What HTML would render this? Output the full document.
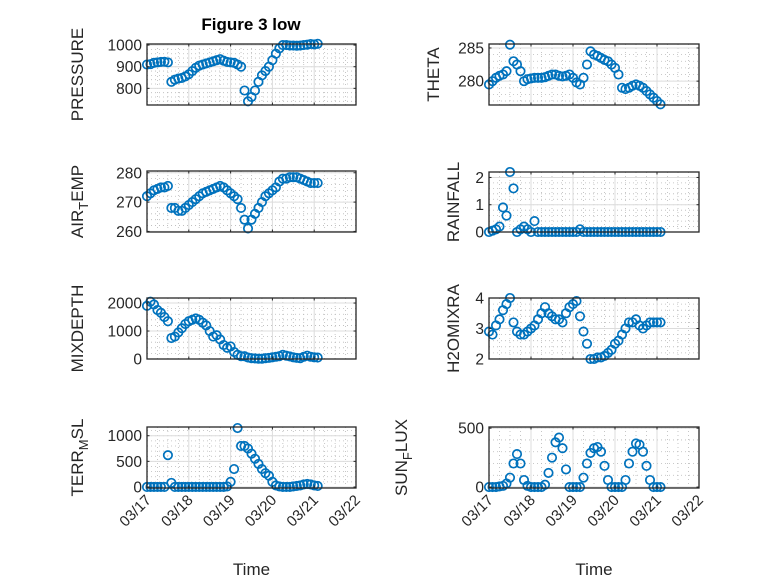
<!DOCTYPE html>
<html><head><meta charset="utf-8"><style>
body{margin:0;background:#fff;}
svg{display:block;font-family:"Liberation Sans","DejaVu Sans",sans-serif;}
</style></head><body>
<svg id="fig" width="778" height="583" viewBox="0 0 778 583" xmlns="http://www.w3.org/2000/svg">
<rect width="778" height="583" fill="#fff"/>
<text x="251" y="30" text-anchor="middle" font-size="17" font-weight="bold" fill="#000">Figure 3 low</text>
<g id="plots"></g>
</svg>
<script>
const hours = [0,2,4,6,8,10,12,14,16,18,20,22,24,26,28,30,32,34,36,38,40,42,44,46,48,50,52,54,56,58,60,62,64,66,68,70,72,74,76,78,80,82,84,86,88,90,92,94,96,98];
const xTickLabels = ["03/17","03/18","03/19","03/20","03/21","03/22"];
const pressure = [910,912,918,920,922,923,920,830,840,845,848,855,865,880,895,905,910,915,920,925,930,935,928,922,920,918,910,900,790,740,760,790,830,860,880,900,930,960,985,1000,1000,998,998,997,998,1000,1002,1005,1003,1006];
const airTemp = [272,273,274,274.5,275,275,275.5,268,268,267,267,268,269,270,271,272,273,273.5,274,274.5,275,275.5,275,274,273,272,271,268,264,261,264,266,268,270,272,273,274,275,277,278,278,278.5,278.5,278.5,278,277.5,277,276.5,276.5,276.5];
const mixDepth = [1900,2050,1950,1750,1650,1500,1350,750,800,950,1100,1250,1350,1400,1450,1400,1300,1200,1000,800,850,700,500,400,450,250,150,100,100,50,30,20,10,10,30,40,60,80,100,150,120,90,60,40,30,80,120,80,60,50];
const terrMsl = [0,0,0,0,0,0,620,80,0,0,0,0,0,0,0,0,0,0,0,0,0,0,0,10,100,350,1150,800,800,750,650,550,450,350,270,220,100,30,10,0,0,0,10,20,30,50,60,50,30,20];
const theta = [279.5,280,280.5,280.8,281,281.5,285.5,283,282.5,281.5,280,280.3,280.4,280.5,280.5,280.5,280.6,280.8,281,281,280.8,280.7,280.8,281,280.5,279.8,279.5,280.5,282.5,284.5,284,283.8,283.5,283.2,283,282.5,282,281,279,278.8,279,279.3,279.5,279.3,279,278.5,278,277.5,277,276.5];
const rainfall = [0,0.05,0.1,0.2,0.9,0.6,2.2,1.6,0,0.1,0.2,0.1,0,0.4,0,0,0,0,0,0,0,0,0,0,0,0,0.1,0,0,0,0,0,0,0,0,0,0,0,0,0,0,0,0,0,0,0,0,0,0,0];
const h2oMix = [2.9,2.8,3.1,3.3,3.6,3.8,4.0,3.2,2.9,2.8,2.8,2.9,3.0,3.1,3.3,3.5,3.7,3.5,3.4,3.3,3.3,3.2,3.5,3.7,3.8,3.9,3.4,2.9,2.5,2.0,2.0,2.05,2.05,2.1,2.2,2.3,2.5,2.6,2.8,3.0,3.2,3.2,3.3,3.1,3.0,3.1,3.2,3.2,3.2,3.2];
const sunFlux = [0,0,0,5,10,30,80,200,280,200,60,10,0,0,0,0,20,120,250,380,420,330,150,0,0,0,0,80,200,290,330,340,300,180,60,0,0,0,0,60,200,300,370,360,300,180,60,0,0,0];
const pressureTicks = [800,900,1000];
const airTempTicks = [260,270,280];
const mixDepthTicks = [0,1000,2000];
const terrTicks = [0,500,1000];
const thetaTicks = [280,285];
const rainTicks = [0,1,2];
const h2oTicks = [2,3,4];
const sunTicks = [0,500];

const NS = "http://www.w3.org/2000/svg";
const root = document.getElementById('plots');
function mk(tag, attrs, parent){const e=document.createElementNS(NS,tag);for(const k in attrs)e.setAttribute(k,attrs[k]);(parent||root).appendChild(e);return e;}

const panels = [
 {name:'pressure',x0:147,x1:356,y0:44,y1:105,ylim:[723,1005],ticks:pressureTicks,minor:20,data:pressure,label:['PRESSURE'],lx:83,xt:false},
 {name:'air-temp',x0:147,x1:356,y0:171,y1:232,ylim:[259.8,280.6],ticks:airTempTicks,minor:2,data:airTemp,label:['AIR','T','EMP'],lx:83,xt:false},
 {name:'mixdepth',x0:147,x1:356,y0:298,y1:359,ylim:[0,2180],ticks:mixDepthTicks,minor:200,data:mixDepth,label:['MIXDEPTH'],lx:83,xt:false},
 {name:'terr-msl',x0:147,x1:356,y0:427,y1:488,ylim:[-20,1170],ticks:terrTicks,minor:100,data:terrMsl,label:['TERR','M','SL'],lx:83,xt:true},
 {name:'theta',x0:489,x1:699,y0:44,y1:105,ylim:[276.4,285.6],ticks:thetaTicks,minor:1,data:theta,label:['THETA'],lx:439,xt:false},
 {name:'rainfall',x0:489,x1:699,y0:172,y1:232,ylim:[0,2.2],ticks:rainTicks,minor:0.2,data:rainfall,label:['RAINFALL'],lx:459,xt:false},
 {name:'h2omixra',x0:489,x1:699,y0:298,y1:359,ylim:[2,4],ticks:h2oTicks,minor:0.2,data:h2oMix,label:['H2OMIXRA'],lx:459,xt:false},
 {name:'sun-flux',x0:489,x1:699,y0:427,y1:488,ylim:[-8,510],ticks:sunTicks,minor:100,data:sunFlux,label:['SUN','F','LUX'],lx:407,xt:true}
];

panels.forEach(p=>{
  const g = mk('g',{});
  
  
  const xs = h => p.x0 + (h/24)/5*(p.x1-p.x0);
  const ys = v => p.y1 - (v-p.ylim[0])/(p.ylim[1]-p.ylim[0])*(p.y1-p.y0);
  mk('rect',{x:p.x0,y:p.y0,width:p.x1-p.x0,height:p.y1-p.y0,fill:'#fff'},g);
  for(let h=0;h<=120;h+=6){ if(h%24===0) continue; const x=xs(h);
    mk('line',{x1:x,x2:x,y1:p.y0,y2:p.y1,stroke:'#b8b8b8','stroke-width':0.8,'stroke-dasharray':'1 3'},g);}
  const start=Math.ceil(p.ylim[0]/p.minor)*p.minor;
  for(let v=start; v<=p.ylim[1]+1e-9; v+=p.minor){ const y=ys(v);
    mk('line',{x1:p.x0,x2:p.x1,y1:y,y2:y,stroke:'#b8b8b8','stroke-width':0.8,'stroke-dasharray':'1 3'},g);}
  for(let d=1; d<5; d++){const x=xs(d*24);
    mk('line',{x1:x,x2:x,y1:p.y0,y2:p.y1,stroke:'#dcdcdc','stroke-width':1},g);}
  p.ticks.forEach(v=>{const y=ys(v);
    mk('line',{x1:p.x0,x2:p.x1,y1:y,y2:y,stroke:'#dcdcdc','stroke-width':1},g);});
  p.data.forEach((v,i)=>{
    const c = mk('circle',{cx:xs(hours[i]),cy:ys(v),r:4.2,fill:'none',stroke:'#0072BD','stroke-width':1.7},g);
    
    
  });
  mk('rect',{x:p.x0,y:p.y0,width:p.x1-p.x0,height:p.y1-p.y0,fill:'none',stroke:'#262626','stroke-width':1.3},g);
  for(let d=0; d<=5; d++){const x=xs(d*24);
    mk('line',{x1:x,x2:x,y1:p.y1,y2:p.y1-2.5,stroke:'#262626'},g);
    mk('line',{x1:x,x2:x,y1:p.y0,y2:p.y0+2.5,stroke:'#262626'},g);
    if(p.xt){
      const t = mk('text',{x:0,y:0,'text-anchor':'end','font-size':15,fill:'#262626',transform:`translate(${x+5},${p.y1+13}) rotate(-45)`},g);
      t.textContent = xTickLabels[d];
      
      
    }
  }
  p.ticks.forEach(v=>{const y=ys(v);
    mk('line',{x1:p.x0,x2:p.x0+2.5,y1:y,y2:y,stroke:'#262626'},g);
    mk('line',{x1:p.x1,x2:p.x1-2.5,y1:y,y2:y,stroke:'#262626'},g);
    const t = mk('text',{x:p.x0-5,y:y+5.5,'text-anchor':'end','font-size':15.5,fill:'#262626'},g);
    t.textContent = String(v);
    
    
  });
  const cy=(p.y0+p.y1)/2;
  const lab = mk('text',{x:0,y:0,'text-anchor':'middle','font-size':17,fill:'#262626',transform:`translate(${p.lx},${cy}) rotate(-90)`},g);
  
  
  if(p.label.length===1){ lab.textContent=p.label[0]; }
  else {
    const a=mk('tspan',{},lab); a.textContent=p.label[0];
    const b=mk('tspan',{dy:5,'font-size':13},lab); b.textContent=p.label[1];
    const c=mk('tspan',{dy:-5},lab); c.textContent=p.label[2];
  }
  if(p.xt){
    const t = mk('text',{x:(p.x0+p.x1)/2,y:575,'text-anchor':'middle','font-size':17,fill:'#262626'},g);
    t.textContent='Time';
    
    
  }
});
</script>
</body></html>
